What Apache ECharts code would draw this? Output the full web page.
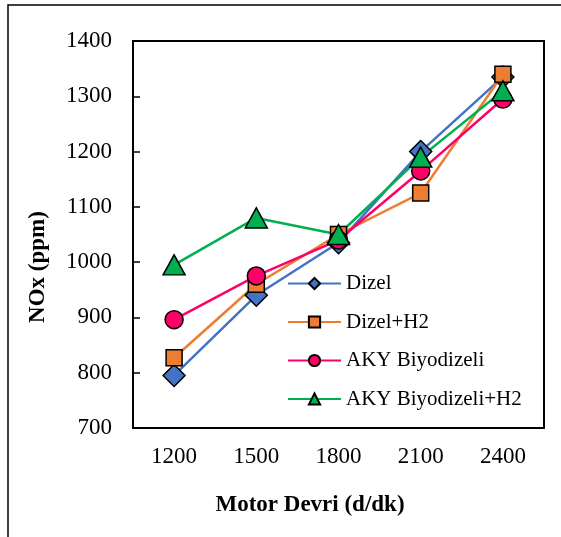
<!DOCTYPE html>
<html>
<head>
<meta charset="utf-8">
<script src="https://cdn.jsdelivr.net/npm/echarts@6/dist/echarts.min.js"></script>
<style>
html,body{margin:0;padding:0;background:#fff;}
#chart{width:561px;height:537px;}
</style>
</head>
<body>
<div id="chart"></div>
<script>
const categories = ['1200', '1500', '1800', '2100', '2400'];
const dizel = [795, 940, 1035, 1200, 1335];
const dizelH2 = [827, 960, 1050, 1125, 1340];
const aky = [896, 975, 1040, 1165, 1295];
const akyH2 = [995, 1080, 1050, 1190, 1310];
const seriesNames = ['Dizel', 'Dizel+H2', 'AKY Biyodizeli', 'AKY Biyodizeli+H2'];
const yTitle = 'NOx (ppm)';
const xTitle = 'Motor Devri (d/dk)';

const FONT = "'Times New Roman', 'Liberation Serif', serif";
const chart = echarts.init(document.getElementById('chart'));

function mk(name, data, color, symbol, size) {
  return {
    name: name,
    type: 'line',
    data: data,
    symbol: symbol,
    symbolSize: size,
    showAllSymbol: true,
    lineStyle: { color: color, width: 2.5 },
    itemStyle: { color: color, borderColor: '#000', borderWidth: 1.5 },
    emphasis: { disabled: true },
    animation: false
  };
}

chart.setOption({
  animation: false,
  backgroundColor: '#fff',
  grid: {
    left: 133, top: 41, right: 17, bottom: 109,
    show: true, borderColor: '#000', borderWidth: 2, backgroundColor: 'transparent'
  },
  legend: {
    orient: 'vertical',
    left: 287,
    top: 273,
    padding: 0,
    itemWidth: 53,
    itemHeight: 14,
    itemGap: 17.5,
    textStyle: { fontFamily: FONT, fontSize: 21, color: '#000' },
    data: seriesNames
  },
  xAxis: {
    type: 'category',
    data: categories,
    boundaryGap: true,
    axisLine: { lineStyle: { color: '#000', width: 2 } },
    axisTick: { inside: true, length: 5, alignWithLabel: true, lineStyle: { color: '#000', width: 1.5 } },
    axisLabel: { fontFamily: FONT, fontSize: 23, color: '#000', margin: 17 },
    splitLine: { show: false }
  },
  yAxis: {
    type: 'value',
    min: 700, max: 1400, interval: 100,
    axisLine: { show: true, lineStyle: { color: '#000', width: 2 } },
    axisTick: { show: true, inside: true, length: 7, lineStyle: { color: '#000', width: 1.5 } },
    axisLabel: { fontFamily: FONT, fontSize: 23, color: '#000', margin: 21, formatter: function (v) { return String(v); } },
    splitLine: { show: false }
  },
  graphic: [
    { type: 'rect', shape: { x: 8, y: 5, width: 700, height: 700 }, style: { fill: 'none', stroke: '#000', lineWidth: 1.5 }, silent: true },
    { type: 'text', x: 38, y: 267, rotation: Math.PI / 2, style: { text: yTitle, font: "bold 23px " + FONT, fill: '#000', align: 'center', verticalAlign: 'middle' } },
    { type: 'text', x: 310, y: 505, style: { text: xTitle, font: "bold 23px " + FONT, fill: '#000', align: 'center', verticalAlign: 'middle' } }
  ],
  series: [
    mk(seriesNames[0], dizel, '#4472C4', 'diamond', 22),
    mk(seriesNames[1], dizelH2, '#ED7D31', 'rect', 16),
    mk(seriesNames[2], aky, '#FF0066', 'circle', 18),
    mk(seriesNames[3], akyH2, '#00B050', 'triangle', [22, 20])
  ]
});
</script>
</body>
</html>
